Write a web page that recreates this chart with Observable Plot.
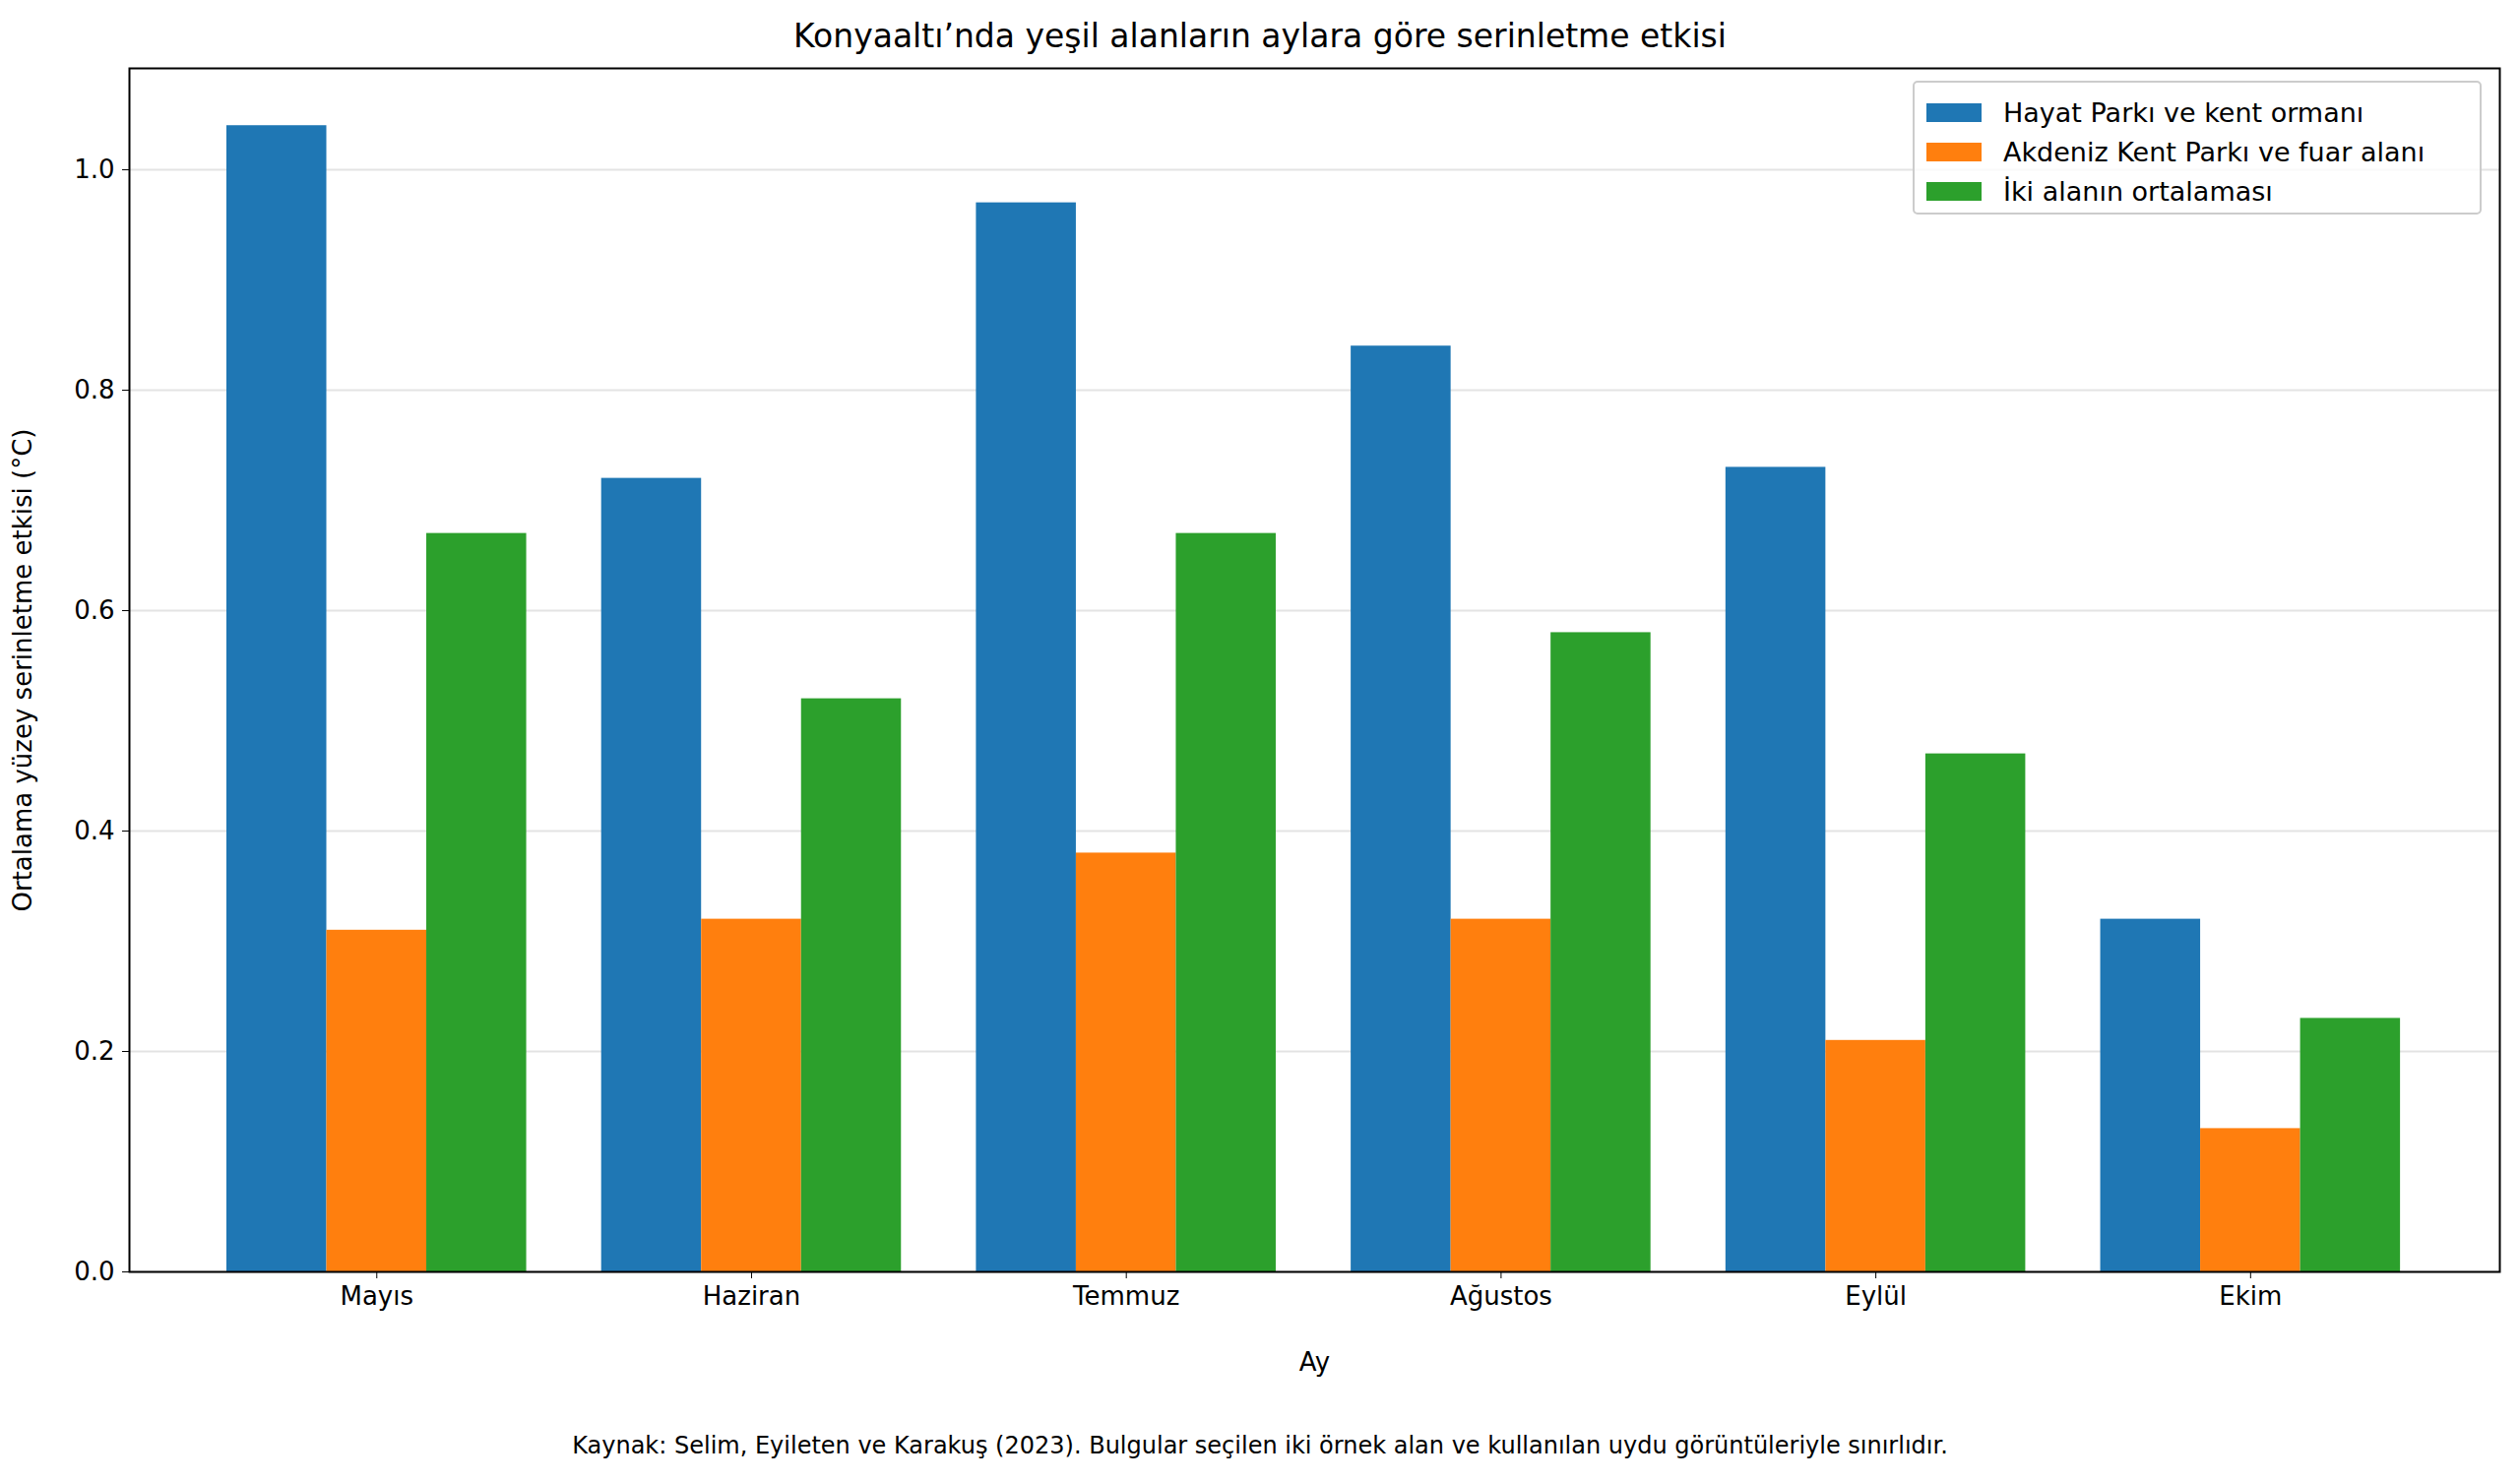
<!DOCTYPE html>
<html><head><meta charset="utf-8">
<script src="https://cdn.jsdelivr.net/npm/d3@7"></script>
<script src="https://cdn.jsdelivr.net/npm/@observablehq/plot@0.6"></script>
<style>
body{margin:0;background:#fff;font-family:"DejaVu Sans",sans-serif;width:2560px;position:relative}
#title{height:67px;line-height:74px;text-align:center;font-size:33px;color:#000}
#cap{text-align:center;font-size:24px;padding-top:48px}
#legend{position:absolute;left:1943px;top:82px;width:578px;height:136px;border:2px solid #ccc;border-radius:5px;background:rgba(255,255,255,0.8);box-sizing:border-box;padding:10px 12px;font-size:27px}
.li{display:flex;align-items:center;height:40px}
.sw{width:56px;height:19px;margin-right:22px}
</style></head><body>
<div id="title">Konyaaltı’nda yeşil alanların aylara göre serinletme etkisi</div>
<div id="chart"></div>
<div id="cap">Kaynak: Selim, Eyileten ve Karakuş (2023). Bulgular seçilen iki örnek alan ve kullanılan uydu görüntüleriyle sınırlıdır.</div>
<div id="legend"></div>
<script>
const months = ["Mayıs","Haziran","Temmuz","Ağustos","Eylül","Ekim"];
const seriesNames = ["Hayat Parkı ve kent ormanı","Akdeniz Kent Parkı ve fuar alanı","İki alanın ortalaması"];
const colors = ["#1f77b4","#ff7f0e","#2ca02c"];
const hayat = [1.04,0.72,0.97,0.84,0.73,0.32];
const akdeniz = [0.31,0.32,0.38,0.32,0.21,0.13];
const ortalama = [0.67,0.52,0.67,0.58,0.47,0.23];
const yTicks = [0,0.2,0.4,0.6,0.8,1.0];

const all = [hayat, akdeniz, ortalama];
const w = 0.8/3;
const data = [];
all.forEach((arr,k)=>arr.forEach((v,i)=>data.push({x1:i-0.4+k*w, x2:i-0.4+(k+1)*w, y:v, s:seriesNames[k]})));

const chart = Plot.plot({
  width:2560, height:1340,
  marginLeft:131, marginRight:21, marginTop:2, marginBottom:115,
  style:{fontFamily:"DejaVu Sans", fontSize:"26px", color:"#000", background:"#fff"},
  x:{domain:[-0.66,5.665], ticks:d3.range(6), tickFormat:i=>months[i], tickSize:7, tickPadding:8, label:"Ay", labelAnchor:"center", labelOffset:100},
  y:{domain:[0,1.092], ticks:yTicks, tickFormat:d3.format(".1f"), tickSize:7, tickPadding:8, label:"Ortalama yüzey serinletme etkisi (°C)", labelAnchor:"center", labelOffset:118},
  color:{domain:seriesNames, range:colors},
  marks:[
    Plot.gridY(yTicks,{stroke:"#e3e3e3", strokeOpacity:1, strokeWidth:2}),
    Plot.rectY(data,{x1:"x1", x2:"x2", y:"y", fill:"s"}),
    Plot.frame({stroke:"#000", strokeWidth:2}),
    Plot.axisX({ticks:d3.range(6), tickFormat:i=>months[i], tickSize:7, tickPadding:8, label:"Ay", labelAnchor:"center", labelOffset:100, labelArrow:"none"}),
    Plot.axisY({ticks:yTicks, tickFormat:d3.format(".1f"), tickSize:7, tickPadding:8, label:"Ortalama yüzey serinletme etkisi (°C)", labelAnchor:"center", labelOffset:118, labelArrow:"none"})
  ]
});
document.getElementById("chart").appendChild(chart);
const lg = document.getElementById("legend");
seriesNames.forEach((n,k)=>{lg.innerHTML += `<div class="li"><div class="sw" style="background:${colors[k]}"></div>${n}</div>`;});
</script>
</body></html>
